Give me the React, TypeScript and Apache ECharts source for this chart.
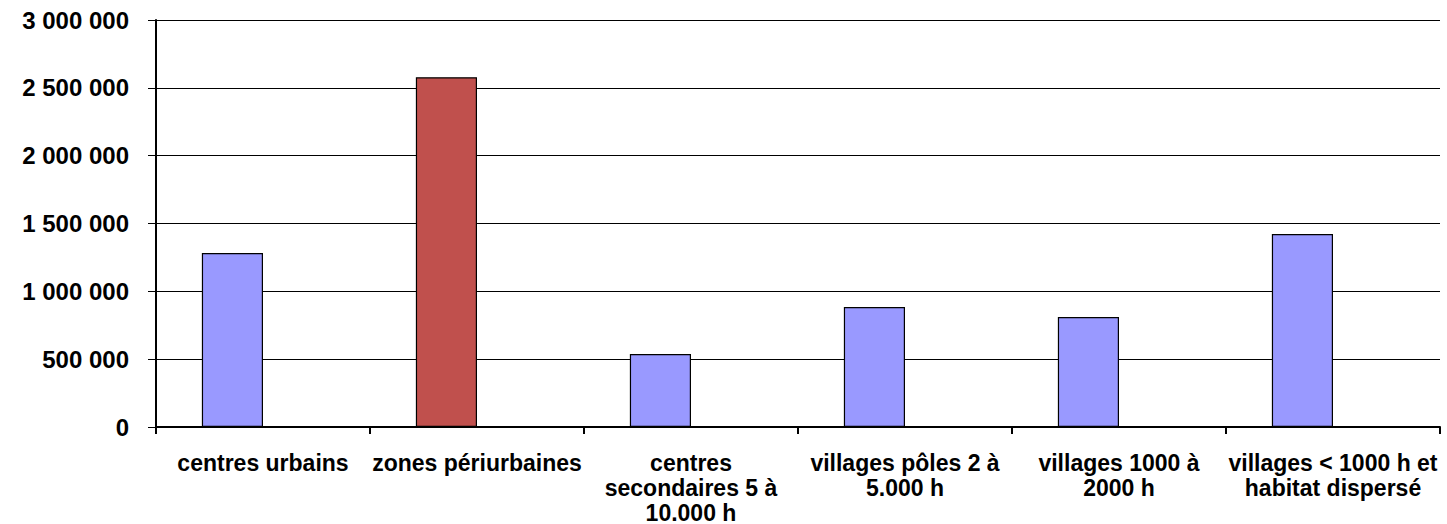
import React, { useEffect, useRef } from "react";
import * as echarts from "echarts";

const categories = [
  "centres urbains",
  "zones périurbaines",
  "centres\nsecondaires 5 à\n10.000 h",
  "villages pôles 2 à\n5.000 h",
  "villages 1000 à\n2000 h",
  "villages < 1000 h et\nhabitat dispersé",
];
const values = [1282000, 2578000, 538000, 884000, 811000, 1423000];
const highlightIndex = 1;
const emptySeries = [null, null, null, null, null, null];

export default function App() {
  const ref = useRef<HTMLDivElement>(null);
  useEffect(() => {
    if (!ref.current) return;
    const chart = echarts.init(ref.current, null, { renderer: "svg" });
    const fmt = (v: number) =>
      String(v).replace(/\B(?=(\d{3})+(?!\d))/g, " ");
    chart.setOption({
      animation: false,
      backgroundColor: "#ffffff",
      grid: {
        left: 156,
        right: 7,
        top: 20,
        bottom: 97,
        containLabel: false,
        outerBoundsMode: "none",
      },
      xAxis: {
        type: "category",
        data: categories,
        axisLine: { lineStyle: { color: "#000", width: 2 } },
        axisTick: { show: true, length: 7, lineStyle: { color: "#000", width: 2 } },
        axisLabel: {
          interval: 0,
          margin: 23,
          color: "#000",
          fontFamily: "Liberation Sans, Arial, sans-serif",
          fontWeight: "bold",
          fontSize: 23,
          lineHeight: 25,
          align: "center",
        },
      },
      yAxis: {
        type: "value",
        min: 0,
        max: 3000000,
        interval: 500000,
        axisLine: { show: true, lineStyle: { color: "#000", width: 2 } },
        axisTick: { show: true, length: 8, lineStyle: { color: "#000", width: 1 } },
        splitLine: { lineStyle: { color: "#000", width: 1 } },
        axisLabel: {
          margin: 27,
          color: "#000",
          fontFamily: "Liberation Sans, Arial, sans-serif",
          fontWeight: "bold",
          fontSize: 24,
          formatter: (v: number) => fmt(v),
        },
      },
      series: [
        {
          type: "bar",
          data: values.map((v, i) => ({
            value: v,
            itemStyle: {
              color: i === highlightIndex ? "#C0504D" : "#9999FF",
            },
          })),
          barGap: "0%",
          barCategoryGap: "42.86%",
          itemStyle: { borderColor: "#000", borderWidth: 1.2 },
        },
        {
          type: "bar",
          data: emptySeries,
          barGap: "0%",
          barCategoryGap: "42.86%",
        },
      ],
    });
    return () => chart.dispose();
  }, []);
  return (
    <div
      ref={ref}
      style={{ position: "fixed", left: 0, top: 0, width: 1447, height: 524 }}
    />
  );
}
